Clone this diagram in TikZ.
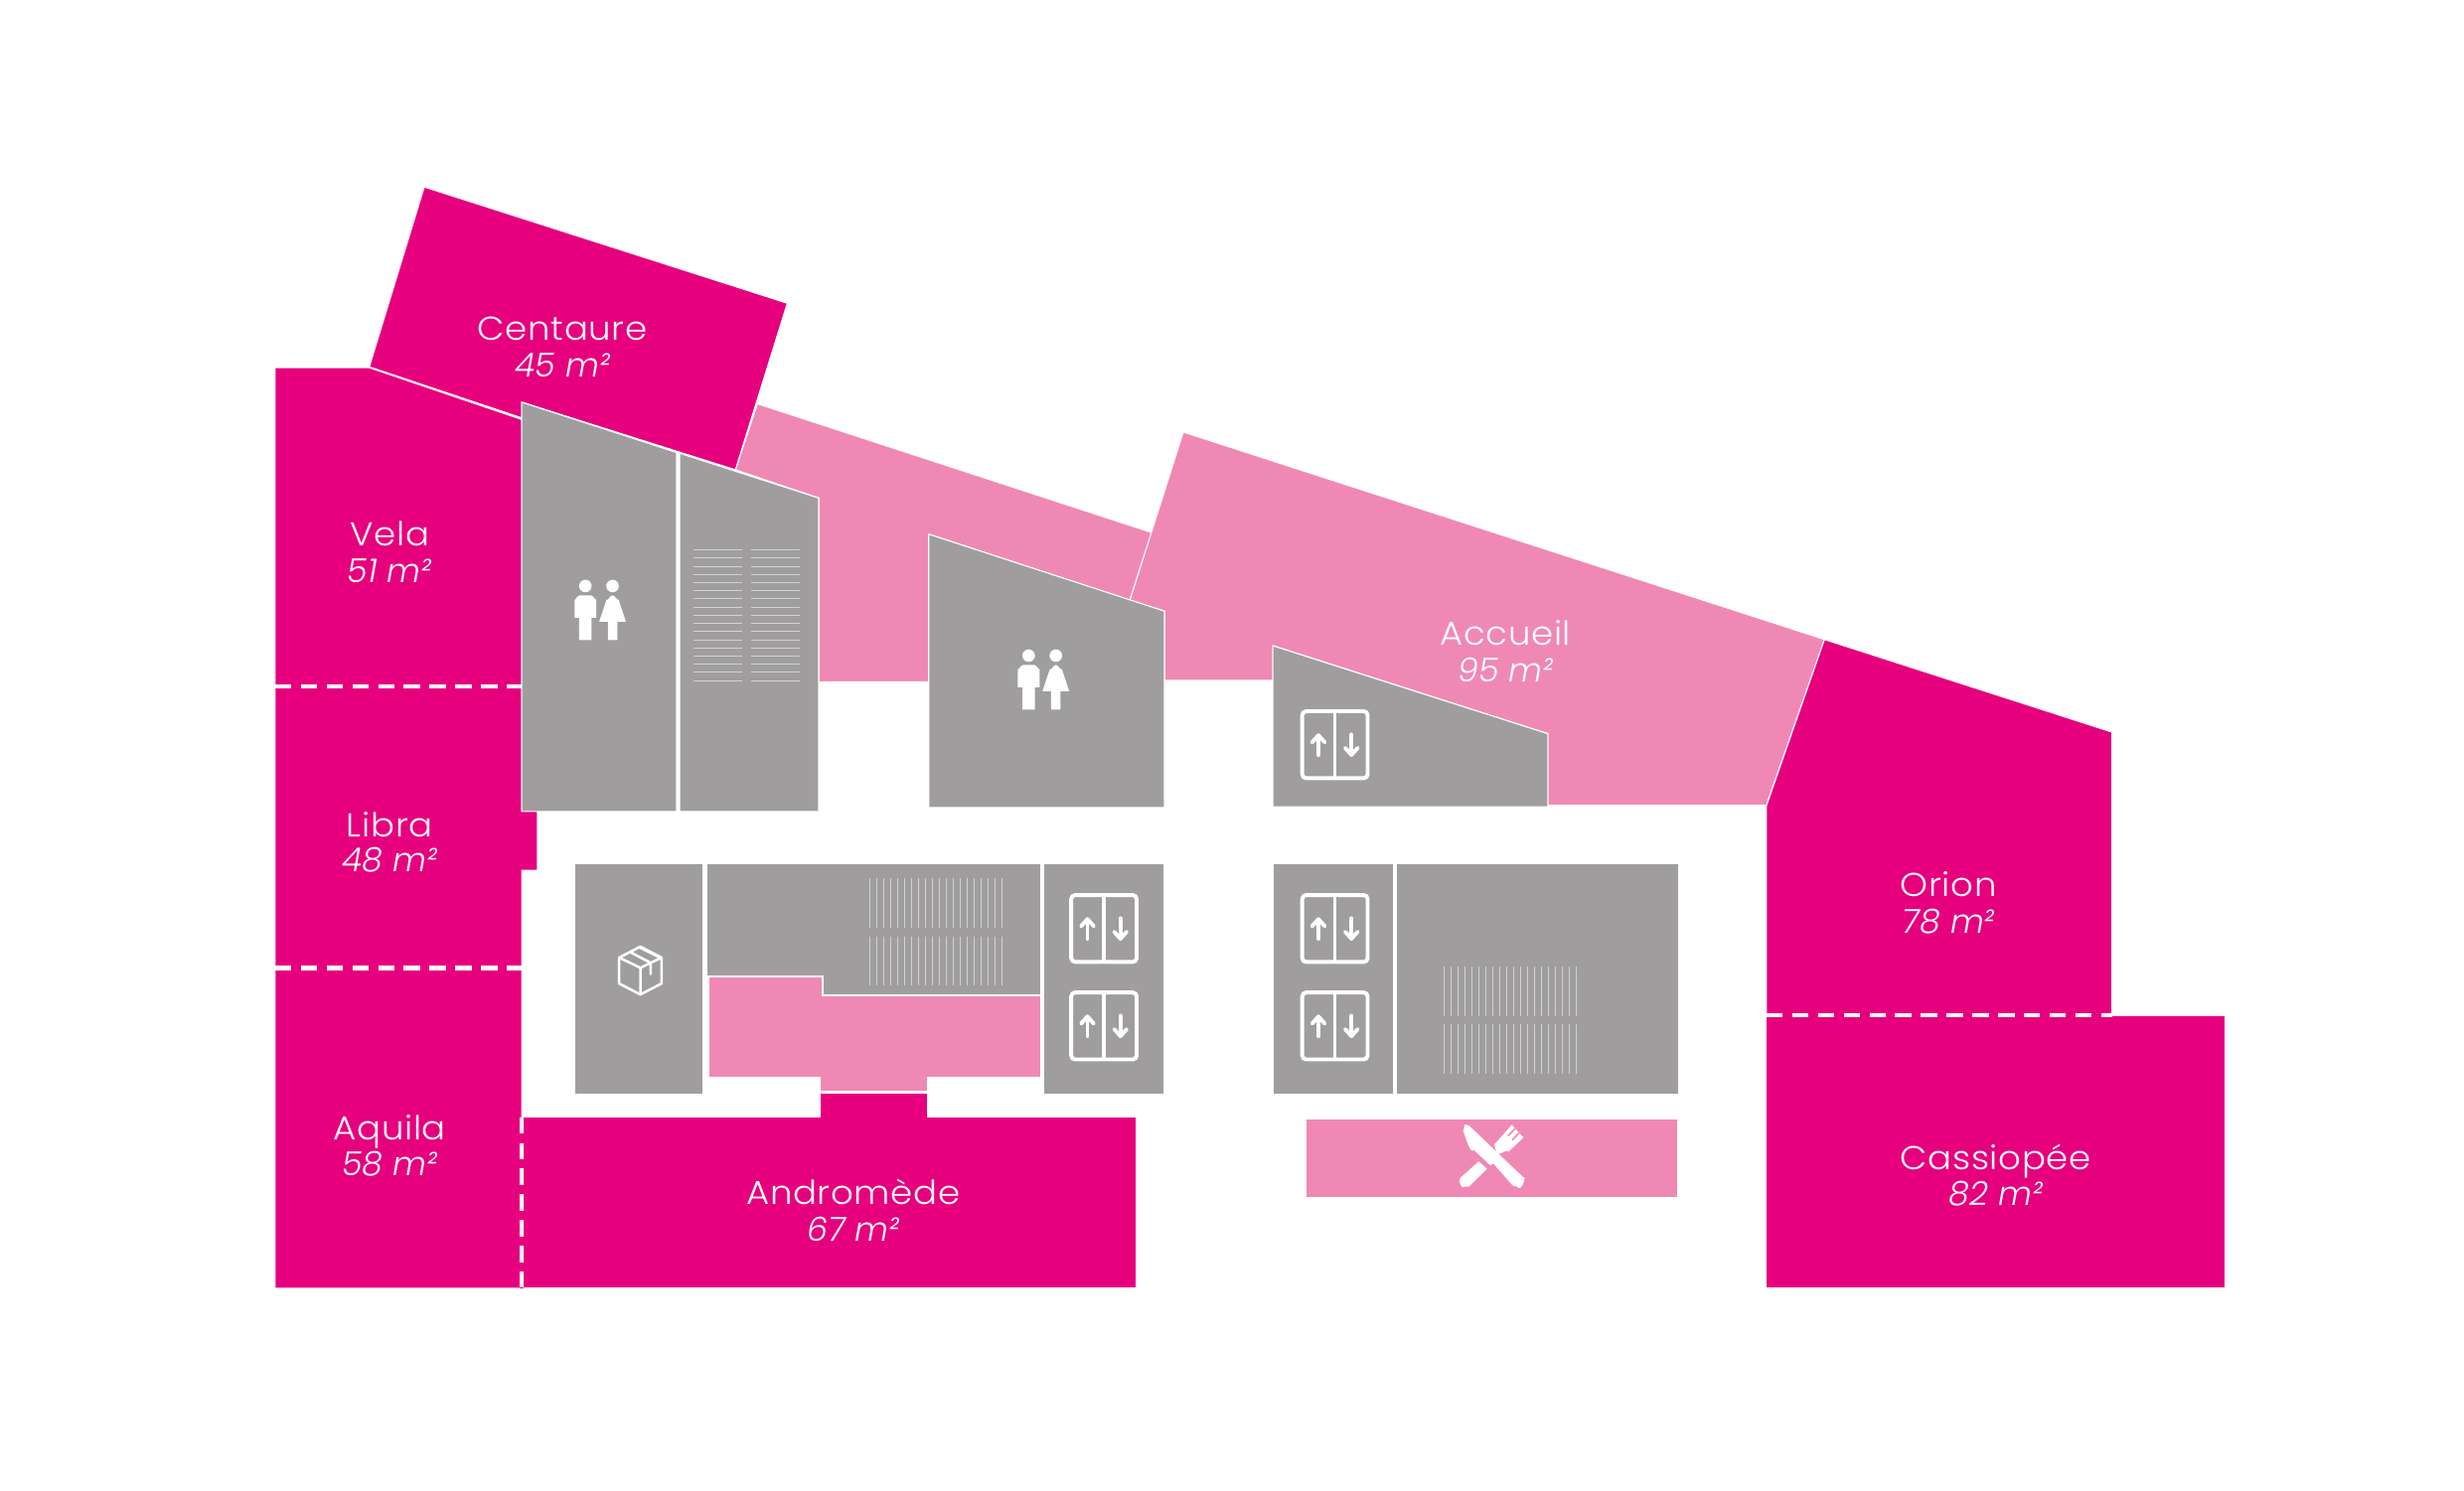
\documentclass[tikz,border=0pt]{standalone}
\usepackage{fontspec}
\newfontfamily\namefont[LetterSpace=2,FakeStretch=1.07]{Poppins Light}
\newfontfamily\areafont[LetterSpace=0,FakeStretch=1.0]{Poppins Light Italic}
\definecolor{vivid}{HTML}{E6007E}
\definecolor{pale}{HTML}{F088B6}
\definecolor{wallgrey}{HTML}{9F9D9E}
\tikzset{
  room/.style={fill=vivid,draw=white,line width=0.7pt,line join=miter},
  hall/.style={fill=pale,draw=white,line width=0.7pt},
  core/.style={fill=wallgrey,draw=white,line width=0.7pt},
  seam/.style={draw=vivid,line width=2.8pt},
  border/.style={draw=white,line width=2.8pt,dash pattern=on 10.3pt off 6.1pt},
  hatchline/.style={draw=white,draw opacity=0.55,line width=0.65pt},
  ico/.style={draw=white,line width=2.5pt},
  icofill/.style={fill=white,draw=none},
  nm/.style={text=white,anchor=base,font=\namefont\fontsize{21}{24}\selectfont,inner sep=0pt},
  ar/.style={text=white,anchor=base,font=\areafont\fontsize{21}{24}\selectfont,inner sep=0pt}
}
\newcommand{\liftico}[2]{%
  \begin{scope}[shift={(#1,#2)}]
    \draw[ico,rounded corners=2.5pt] (1.2,1.2) rectangle (42.8,43.8);
    \draw[ico,line width=2.3pt] (22,1) -- (22,44);
    \draw[ico,line cap=round] (11.5,29) -- (11.5,17);
    \draw[ico,line cap=round,line join=round] (7.5,21) -- (11.5,16.5) -- (15.5,21);
    \draw[ico,line cap=round] (32.5,16) -- (32.5,28.5);
    \draw[ico,line cap=round,line join=round] (28.5,24.5) -- (32.5,29) -- (36.5,24.5);
  \end{scope}}
\newcommand{\wcico}[2]{%
  \begin{scope}[shift={(#1,#2)}]
    \fill[icofill] (0,0) circle (4);
    \fill[icofill] (17.3,0) circle (4);
    \fill[icofill] (-6.9,20.2) -- (-6.9,8.5) to[out=-90,in=180] (-3.5,5.9) -- (3.5,5.9) to[out=0,in=-90] (6.9,8.5) -- (6.9,20.2) -- (3.9,20.2) -- (3.9,34.4) -- (-3.9,34.4) -- (-3.9,20.2) -- cycle;
    \fill[icofill] (8.8,22.7) -- (13.5,8.5) to[out=-70,in=180] (17.3,5.9) to[out=0,in=-110] (21.1,8.5) -- (25.8,22.7) -- (20.3,22.7) -- (20.3,34.4) -- (14.3,34.4) -- (14.3,22.7) -- cycle;
  \end{scope}}
\newcommand{\hlines}[3]{% y start, x0, x1
  \foreach \i in {0,...,16} {\draw[hatchline] (#2,#1+5.2*\i) -- (#3,#1+5.2*\i);}}
\newcommand{\vlines}[3]{% x start, y0, y1
  \foreach \i in {0,...,19} {\draw[hatchline] (#1+4.42*\i,#2) -- (#1+4.42*\i,#3);}}
\begin{document}
\begin{tikzpicture}[x=1pt,y=-1pt]
\useasboundingbox (0,0) rectangle (1568,948.4);
\fill[white] (0,0) rectangle (1568,948.4);
% halls
\draw[hall] (482,257) -- (733,339) -- (719,382) -- (591,340) -- (591,434) -- (521,434) -- (521,317) -- (468,299) -- cycle;
\draw[hall] (753,275) -- (1161,407) -- (1124,512.5) -- (985,512.5) -- (985,467) -- (810,411) -- (810,433) -- (741,433) -- (741,389) -- (719,382) -- cycle;
\draw[hall] (451,622) -- (523,622) -- (523,634) -- (662,634) -- (662,685.5) -- (590,685.5) -- (590,694.5) -- (522,694.5) -- (522,685.5) -- (451,685.5) -- cycle;
\draw[hall] (831,712) rectangle (1067.5,762.5);
% rooms
\draw[room] (270,119) -- (501,193) -- (468,299) -- (332,256) -- (332,266) -- (235,233.5) -- cycle;
\draw[room] (175,234) -- (235,234) -- (332,267) -- (332,516) -- (342,516) -- (342,554) -- (332,554) -- (332,820) -- (175,820) -- cycle;
\draw[room] (332,711) -- (522,711) -- (522,695.5) -- (590,695.5) -- (590,711) -- (723,711) -- (723,820) -- (332,820) -- cycle;
\draw[room] (1161,407) -- (1344,466) -- (1344,646) -- (1124,646) -- (1124,513) -- cycle;
\draw[room] (1124,646.5) -- (1416,646.5) -- (1416,820) -- (1124,820) -- cycle;
% cores
\draw[core] (332,256) -- (430.5,288) -- (430.5,516.5) -- (332,516.5) -- cycle;
\draw[core] (432.5,288.5) -- (521,317) -- (521,516.5) -- (432.5,516.5) -- cycle;
\draw[core] (591,340) -- (741,389) -- (741,514) -- (591,514) -- cycle;
\draw[core] (810,411) -- (985,467) -- (985,513.5) -- (810,513.5) -- cycle;
\draw[core] (366,550) rectangle (447.5,696.5);
\draw[core] (450,550) -- (662.5,550) -- (662.5,633) -- (524,633) -- (524,621) -- (450,621) -- cycle;
\draw[core] (664,550) rectangle (741,696.5);
\draw[core] (810,550) rectangle (886.5,696.5);
\draw[core] (888.5,550) rectangle (1068,696.5);
% dashed limits
\draw[seam] (332,712) -- (332,820);
\draw[seam] (1124.5,646.3) -- (1343.5,646.3);
\draw[border] (175,437) -- (332,437);
\draw[border] (175,616) -- (332,616);
\draw[border] (332,711) -- (332,820);
\draw[border] (1124,646.3) -- (1344,646.3);
% hatching
\hlines{350}{441}{472}
\hlines{350}{478}{509}
\vlines{553.5}{559}{590.5}
\vlines{553.5}{596}{627.5}
\vlines{919}{615}{646.5}
\vlines{919}{652}{683.5}
% lifts
\liftico{827.5}{451.5}
\liftico{680.5}{568.5}
\liftico{680.5}{630.5}
\liftico{827.5}{568.5}
\liftico{827.5}{630.5}
% toilets
\wcico{372.5}{373}
\wcico{654.6}{417.3}
% parcel
\draw[draw=white,line width=1.6pt,line join=round,line cap=round]
  (407.5,602.5) -- (421,609.5) -- (421,626) -- (407.5,633) -- (394,626) -- (394,609.5) -- cycle
  (394,609.5) -- (407.5,616) -- (421,609.5)
  (407.5,616) -- (407.5,633)
  (401,606) -- (414,612.8) -- (414,620)
  (407,603) -- (419,609);
% cutlery
\fill[icofill] (932,715.8) -- (934.7,716.3) -- (969.5,749.5) to[out=45,in=-30] (966.3,756.1) to[out=150,in=45] (963,755) -- (950.2,740.5) -- (948.4,741.7) -- (937.9,732) to[out=-125,in=90] (931,721) -- cycle;
\fill[icofill] (941,739.2) -- (946.3,744) -- (934.7,755.3) to[out=150,in=-60] (930,755) to[out=120,in=-135] (929.5,749.5) -- cycle;
\fill[icofill] (951,728.4) -- (962,716) -- (969.5,724) -- (960,733) to[out=135,in=0] (953.7,734.4) to[out=180,in=90] (951,728.4) -- cycle;
\draw[draw=pale,line width=1pt] (964.2,718.4) -- (959.6,722.9) (966.8,721.2) -- (962.3,725.6);
% labels
\node[nm] (n1) at (358,216.5) {Centaure};
\node[ar] (a1) at (358,240) {45 m²};
\node[nm] (n2) at (248,347.5) {Vela};
\node[ar] (a2) at (248,371) {51 m²};
\node[nm] (n3) at (248,532.5) {Libra};
\node[ar] (a3) at (248,555) {48 m²};
\node[nm] (n4) at (248,725.5) {Aquila};
\node[ar] (a4) at (248,748) {58 m²};
\node[nm] (n5) at (543,766.5) {Andromède};
\node[ar] (a5) at (543,790) {67 m²};
\node[nm] (n6) at (958,410.5) {Accueil};
\node[ar] (a6) at (958,434) {95 m²};
\node[nm] (n7) at (1240,570.5) {Orion};
\node[ar] (a7) at (1240,594) {78 m²};
\node[nm] (n8) at (1270,744.5) {Cassiopée};
\node[ar] (a8) at (1270,767) {82 m²};
\end{tikzpicture}
\end{document}
